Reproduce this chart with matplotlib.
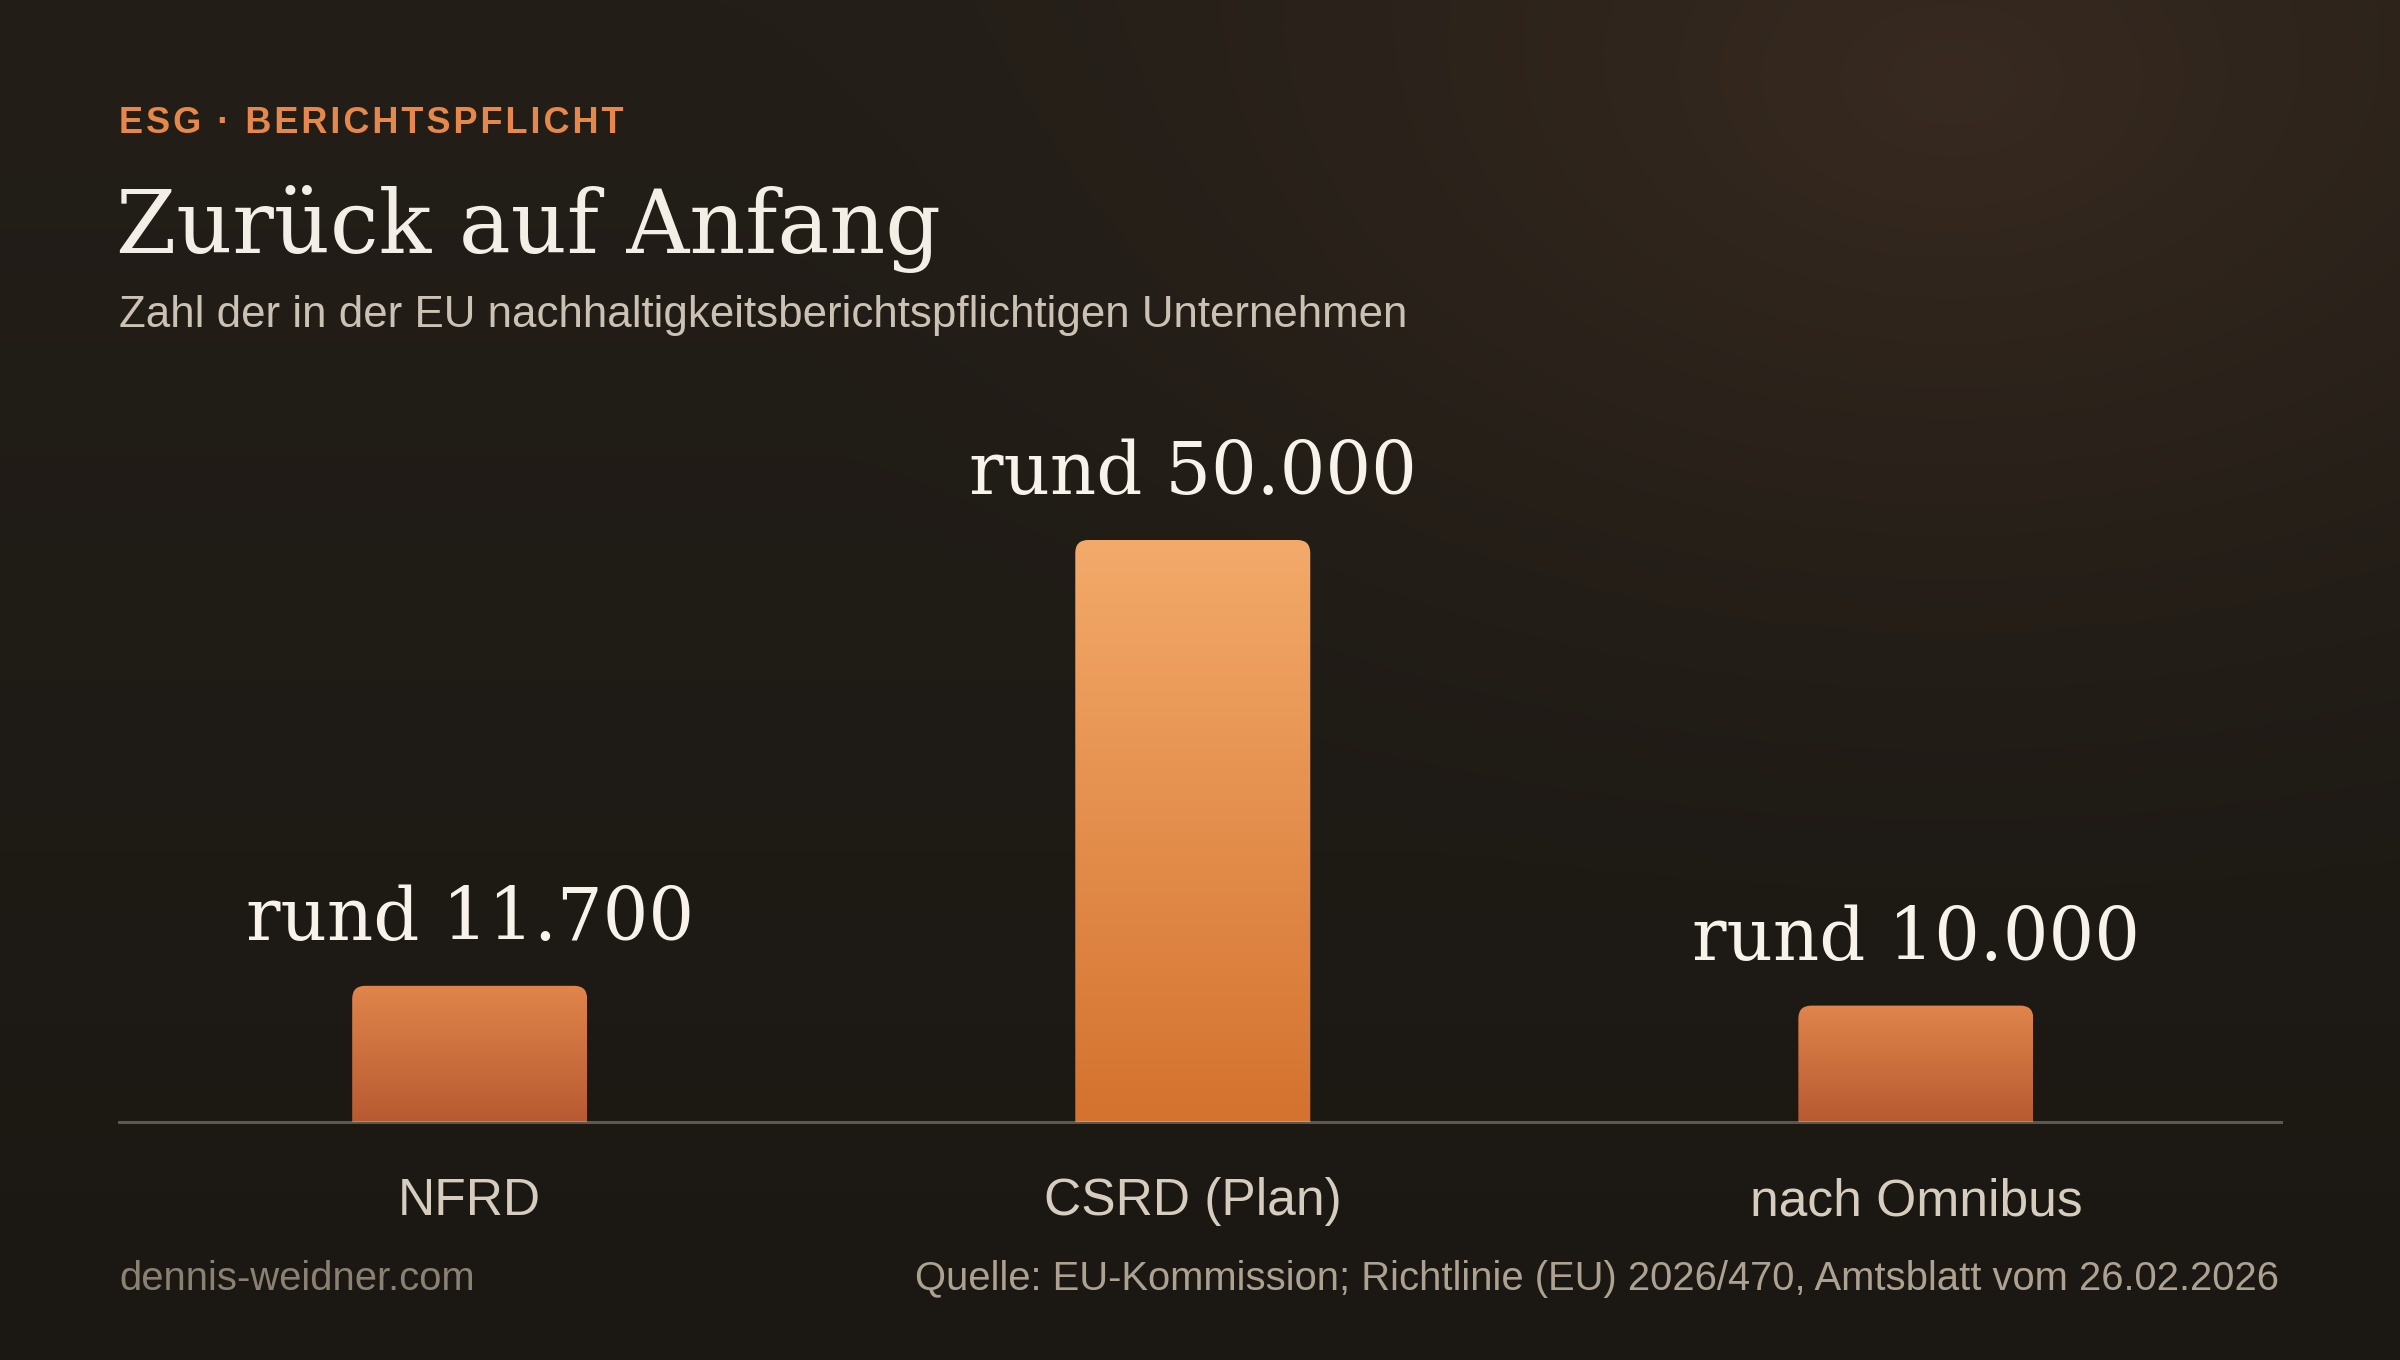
import numpy as np
import matplotlib
matplotlib.use("Agg")
import matplotlib.pyplot as plt
from matplotlib.colors import to_rgb
from matplotlib.path import Path
from matplotlib.patches import PathPatch

# data
categories = ["NFRD", "CSRD (Plan)", "nach Omnibus"]
values = [11700, 50000, 10000]
value_labels = ["rund 11.700", "rund 50.000", "rund 10.000"]

eyebrow = "ESG · BERICHTSPFLICHT"
title = "Zurück auf Anfang"
subtitle = "Zahl der in der EU nachhaltigkeitsberichtspflichtigen Unternehmen"
credit = "dennis-weidner.com"
source = "Quelle: EU-Kommission; Richtlinie (EU) 2026/470, Amtsblatt vom 26.02.2026"

# style
W, H, DPI = 2400, 1360, 200
SANS = ["Liberation Sans", "DejaVu Sans"]
SERIF = ["DejaVu Serif"]
bar_top = ["#e0854b", "#f3aa6a", "#e0854b"]
bar_bottom = ["#b85a32", "#d4722f", "#b85a32"]

fig = plt.figure(figsize=(W / DPI, H / DPI), dpi=DPI)


def fx(x):
    return x / W


def fy(y):
    return 1 - y / H


def fit(t, width_px):
    # scale font so the rendered text has the wanted pixel width
    r = fig.canvas.get_renderer()
    for _ in range(3):
        w = t.get_window_extent(r).width
        t.set_fontsize(t.get_fontsize() * width_px / w)
    return t.get_fontsize()


# background with warm glow at the top right
bg = fig.add_axes([0, 0, 1, 1], zorder=-10)
bg.axis("off")
yy, xx = np.mgrid[0:H:4, 0:W:4]
glow = np.clip(1 - np.hypot((xx - 1950) / 1250, (yy - 80) / 850), 0, 1) ** 1.6
vert = yy / H
base_top = np.array(to_rgb("#231e18"))
base_bot = np.array(to_rgb("#1b1813"))
glow_col = np.array(to_rgb("#382a20"))
base = base_top + (base_bot - base_top) * vert[..., None]
img = base + (glow_col - base) * glow[..., None]
bg.imshow(img, extent=[0, W, H, 0], aspect="auto", interpolation="bilinear")
bg.set_xlim(0, W)
bg.set_ylim(H, 0)

# header
t = fig.text(fx(119), fy(133), "\u200a".join(eyebrow), family=SANS, weight="bold",
             color="#e6884a", fontsize=10, va="baseline", ha="left")
fit(t, 505)
t = fig.text(fx(116), fy(253), title, family=SERIF, color="#f4efe6",
             fontsize=30, va="baseline", ha="left")
fit(t, 825)
t = fig.text(fx(119), fy(327), subtitle, family=SANS, color="#cbc2b4",
             fontsize=14, va="baseline", ha="left")
fit(t, 1291)

# footer
t = fig.text(fx(119), fy(1290), credit, family=SANS, color="#8b8172",
             fontsize=14, va="baseline", ha="left")
fit(t, 355)
t = fig.text(fx(2279), fy(1290), source, family=SANS, color="#ada291",
             fontsize=14, va="baseline", ha="right")
fit(t, 1364)

# chart
ax = fig.add_axes([fx(119), fy(1122), fx(2281 - 119), 582 / H])
ax.axis("off")
ax.set_xlim(-0.485, 2.505)
ax.set_ylim(0, max(values))

ux = (2.505 + 0.485) / (2281 - 119)   # data units per pixel
uy = max(values) / 582
bw = 235 * ux
rx, ry = 13 * ux, 13 * uy

for i, v in enumerate(values):
    x0, x1 = i - bw / 2, i + bw / 2
    verts = [(x0, 0), (x0, v - ry), (x0, v), (x0 + rx, v), (x1 - rx, v),
             (x1, v), (x1, v - ry), (x1, 0), (x0, 0)]
    codes = [Path.MOVETO, Path.LINETO, Path.CURVE3, Path.CURVE3, Path.LINETO,
             Path.CURVE3, Path.CURVE3, Path.LINETO, Path.CLOSEPOLY]
    patch = PathPatch(Path(verts, codes), facecolor="none", edgecolor="none")
    ax.add_patch(patch)
    c0, c1 = np.array(to_rgb(bar_top[i])), np.array(to_rgb(bar_bottom[i]))
    s = np.linspace(0, 1, 256)[:, None, None]
    grad = c0 + (c1 - c0) * s
    im = ax.imshow(grad, extent=[x0, x1, 0, v], aspect="auto",
                   interpolation="bilinear", zorder=2)
    im.set_clip_path(patch)

ax.set_xlim(-0.485, 2.505)
ax.set_ylim(0, max(values))
ax.axhline(0, color="#d8cfc0", alpha=0.35, lw=3 * 72 / DPI, zorder=3, clip_on=False)

val_texts = []
for i, (v, lab) in enumerate(zip(values, value_labels)):
    val_texts.append(ax.annotate(lab, (i, v), xytext=(0, 46 * 72 / DPI),
                                 textcoords="offset points", ha="center", va="baseline",
                                 family=SERIF, color="#f7f2ea", fontsize=20,
                                 annotation_clip=False))
fs = fit(val_texts[1], 448)
for t in val_texts:
    t.set_fontsize(fs)

cat_texts = []
for i, cat in enumerate(categories):
    cat_texts.append(ax.annotate(cat, (i, 0), xytext=(0, -(1215 - 1122) * 72 / DPI),
                                 textcoords="offset points", ha="center", va="baseline",
                                 family=SANS, color="#d6cdbe", fontsize=18,
                                 annotation_clip=False))
fs = fit(cat_texts[2], 333)
for t in cat_texts:
    t.set_fontsize(fs)

fig.savefig("out.png", dpi=DPI)
